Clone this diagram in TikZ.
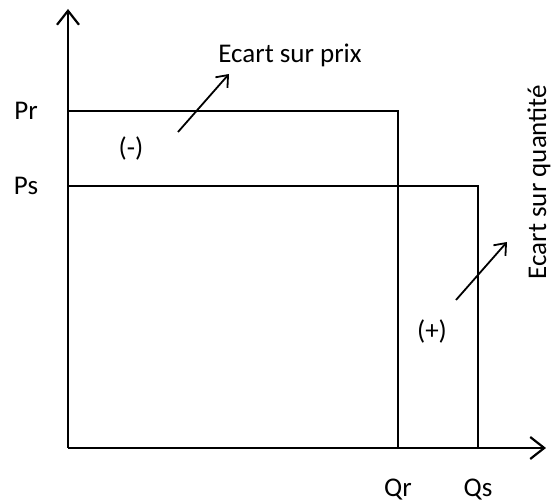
\documentclass[tikz,border=0pt]{standalone}
\usepackage{fontspec}
\setmainfont{Carlito}
\usetikzlibrary{arrows.meta, positioning}

\begin{document}
\begin{tikzpicture}[x=0.5pt, y=-0.5pt, >={Straight Barb[length=7pt, width=11pt]}, font=\fontsize{13.5}{16}\selectfont]
    \useasboundingbox (0,0) rectangle (554,501);
    % axes
    \coordinate (O) at (68,448);
    \coordinate (ytop) at (68,9);
    \coordinate (xend) at (546,448);
    \draw[->, line width=1.1pt] (O) -- (ytop);
    \draw[->, line width=1.1pt] (O) -- (xend);
    % rectangles
    \coordinate (Rr) at (398,111);
    \coordinate (Rs) at (478,186);
    \draw[line width=1pt] (68,111) -| (398,448);
    \draw[line width=1pt] (68,186) -| (478,448);
    % labels
    \node (pr) at (26,111) {Pr};
    \node (ps) at (26,186) {Ps};
    \node (qr) at (398,490) {Qr};
    \node (qs) at (478,490) {Qs};
    \node (moins) at (131,149) {(-)};
    \node (plus) at (432,332) {(+)};
    \node (ecprix) at (290,55) {Ecart sur prix};
    \node[rotate=90] (ecqte) at (539,182) {Ecart sur quantité};
    % arrows
    \coordinate (a1) at (178,132);
    \coordinate (b1) at (229,74);
    \coordinate (a2) at (456,300);
    \coordinate (b2) at (507,242);
    \draw[->, >={Straight Barb[length=5pt, width=8pt]}, line width=0.9pt] (a1) -- (b1);
    \draw[->, >={Straight Barb[length=5pt, width=8pt]}, line width=0.9pt] (a2) -- (b2);
\end{tikzpicture}
\end{document}
